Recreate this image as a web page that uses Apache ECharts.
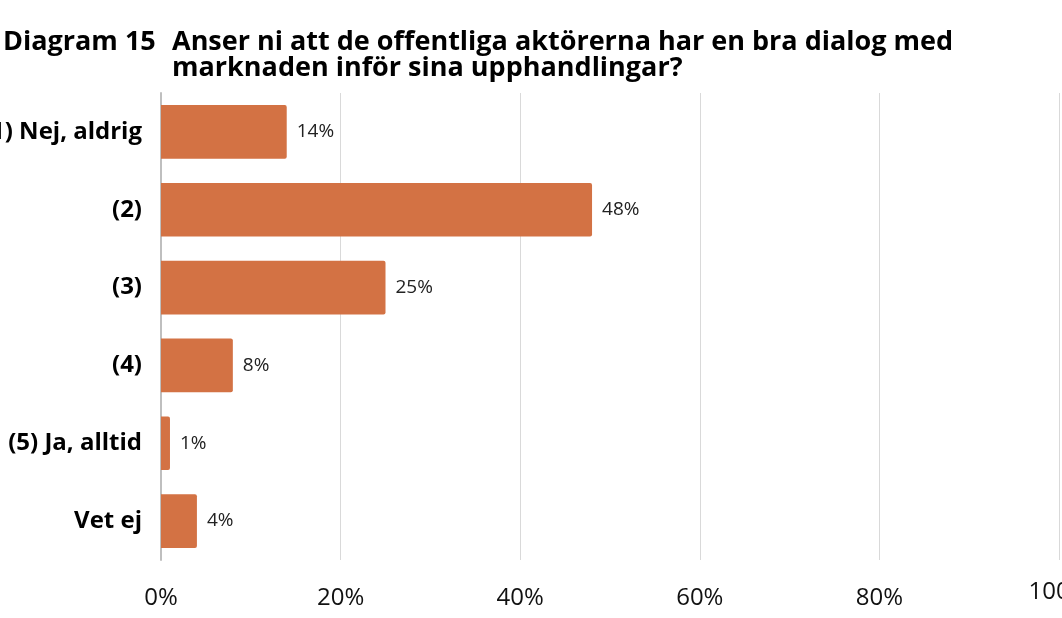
<!DOCTYPE html>
<html>
<head>
<meta charset="utf-8">
<script src="https://cdn.jsdelivr.net/npm/echarts@6/dist/echarts.min.js"></script>
<style>
html, body { margin: 0; padding: 0; background: #fff; }
#chart { width: 1062px; height: 618px; }
</style>
</head>
<body>
<div id="chart"></div>
<script>
var categories = ['(1) Nej, aldrig', '(2)', '(3)', '(4)', '(5) Ja, alltid', 'Vet ej'];
var values = [14, 48, 25, 8, 1, 4];
var xTicks = [0, 20, 40, 60, 80, 100];

var chart = echarts.init(document.getElementById('chart'));

var option = {
	animation: false,
	textStyle: { fontFamily: 'Open Sans' },
	title: [{
		text: 'Diagram 15',
		left: 3,
		top: 29,
		padding: 0,
		textStyle: { fontSize: 27, fontWeight: 'bold', color: '#000', lineHeight: 26, fontFamily: 'Open Sans' }
	}, {
		text: 'Anser ni att de offentliga aktörerna har en bra dialog med\nmarknaden inför sina upphandlingar?',
		left: 172,
		top: 29,
		padding: 0,
		textStyle: { fontSize: 27, fontWeight: 'bold', color: '#000', lineHeight: 26, fontFamily: 'Open Sans' }
	}],
	grid: {
		left: 161,
		right: 3,
		top: 93,
		bottom: 58,
		outerBoundsMode: 'none'
	},
	xAxis: {
		type: 'value',
		min: xTicks[0],
		max: xTicks[xTicks.length - 1],
		interval: 20,
		axisLine: { show: false },
		axisTick: { show: false },
		splitLine: { lineStyle: { color: '#d9d9d9', width: 1 } },
		axisLabel: {
			margin: 20,
			fontSize: 24,
			lineHeight: 36,
			color: '#111',
			alignMinLabel: 'center',
			alignMaxLabel: 'center',
			formatter: function (v) {
				return v === 100 ? '{hi|' + v + '%}' : v + '%';
			},
			rich: {
				hi: { fontSize: 24, lineHeight: 24, color: '#111' }
			}
		}
	},
	yAxis: {
		type: 'category',
		inverse: true,
		data: categories,
		axisLine: { show: true, lineStyle: { color: '#bfbfbf', width: 2 } },
		axisTick: { show: false },
		axisLabel: {
			margin: 19,
			fontSize: 24,
			fontWeight: 'bold',
			color: '#000'
		}
	},
	series: [{
		type: 'bar',
		data: values,
		barWidth: '69%',
		itemStyle: { color: '#d37244', borderRadius: [0, 2, 2, 0] },
		label: {
			show: true,
			position: 'right',
			distance: 10,
			fontSize: 19,
			color: '#222',
			formatter: '{c}%'
		}
	}]
};

chart.setOption(option);
</script>
</body>
</html>
